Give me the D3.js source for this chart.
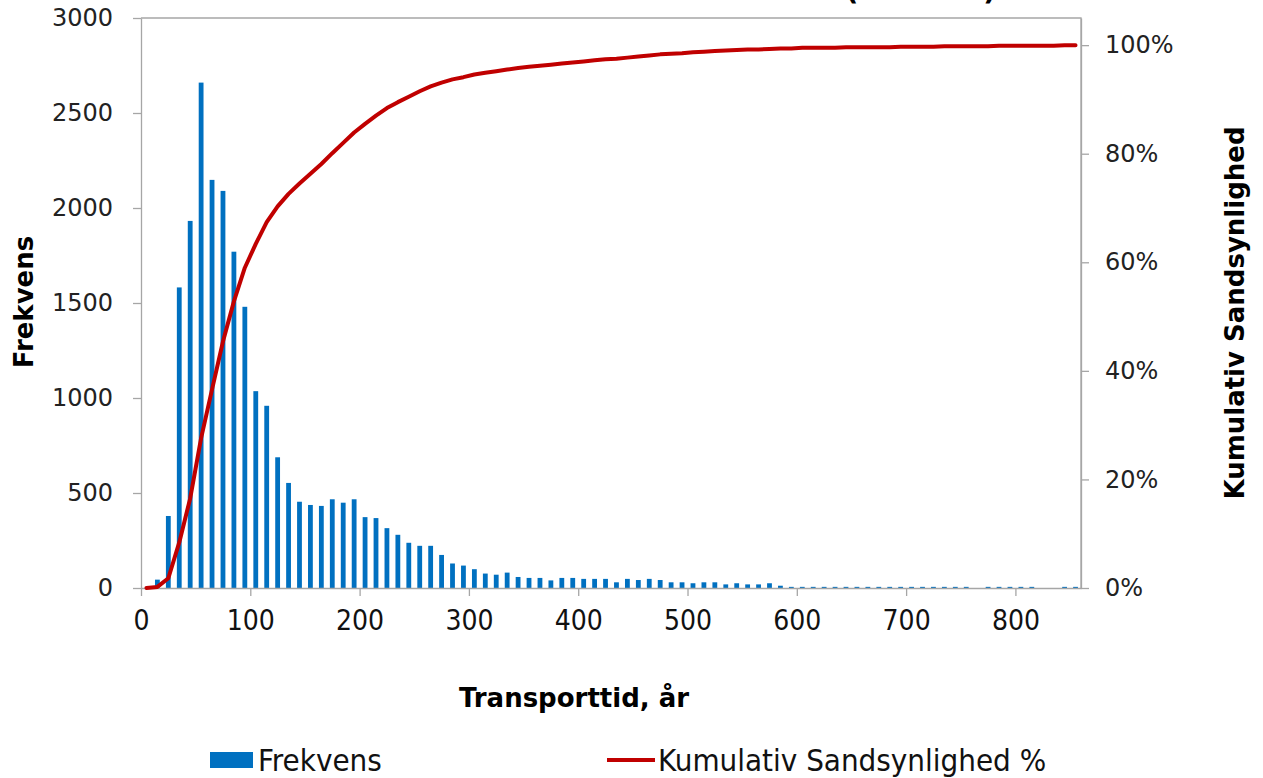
<!DOCTYPE html>
<meta charset="utf-8">
<head>
    <title>Transporttid</title>
    <script src="https://cdn.jsdelivr.net/npm/d3@7"></script>
</head>

<style>
    body { margin: 0; background: #fff; }
    svg { display: block; }
    .axis path, .axis line { stroke: #a6a6a6; stroke-width: 1.3px; }
    .ytick text { font-family: "DejaVu Sans", Verdana, sans-serif; font-size: 24px; fill: #222; }
    .xtick text { font-family: "DejaVu Sans Condensed", sans-serif; font-size: 28px; fill: #111; }
    .title { font-family: "DejaVu Sans", Verdana, sans-serif; font-weight: bold; font-size: 26px; fill: #000; }
    .legend text { font-family: "DejaVu Sans Condensed", sans-serif; font-size: 31px; fill: #111; }
</style>

<svg></svg>

<script>
    // data: 10-year bins, bar at the bin centre
    var binCenters = d3.range(5, 860, 10);   // 5, 15, ... 855
    var frekvens = [
        0, 44, 379, 1582, 1932, 2660, 2148, 2090, 1770, 1480,
        1036, 959, 688, 553, 454, 437, 432, 467, 449, 467,
        373, 368, 315, 280, 238, 222, 222, 174, 129, 118,
        99, 76, 70, 81, 58, 53, 53, 40, 53, 53,
        48, 48, 48, 30, 48, 42, 48, 42, 30, 30,
        25, 30, 30, 19, 25, 19, 19, 25, 12, 6,
        6, 6, 6, 6, 6, 6, 6, 6, 6, 6,
        6, 6, 6, 6, 6, 6, 0, 6, 6, 6,
        6, 6, 0, 0, 6, 6
    ];
    // cumulative probability in percent
    var kumulativ = [
        0, 0.2, 1.8, 8.4, 16.5, 27.6, 36.6, 45.4, 52.8, 59.0,
        63.4, 67.4, 70.3, 72.6, 74.5, 76.3, 78.1, 80.1, 82.0, 83.9,
        85.5, 87.0, 88.4, 89.5, 90.5, 91.5, 92.4, 93.1, 93.7, 94.1,
        94.6, 94.9, 95.2, 95.5, 95.8, 96.0, 96.2, 96.4, 96.6, 96.8,
        97.0, 97.2, 97.4, 97.5, 97.7, 97.9, 98.1, 98.3, 98.4, 98.5,
        98.7, 98.8, 98.9, 99.0, 99.1, 99.2, 99.2, 99.3, 99.4, 99.4,
        99.5, 99.5, 99.5, 99.5, 99.6, 99.6, 99.6, 99.6, 99.6, 99.7,
        99.7, 99.7, 99.7, 99.8, 99.8, 99.8, 99.8, 99.8, 99.9, 99.9,
        99.9, 99.9, 99.9, 99.9, 100, 100
    ];
    var xTicks = [0, 100, 200, 300, 400, 500, 600, 700, 800];
    var yLeftTicks = [0, 500, 1000, 1500, 2000, 2500, 3000];
    var yRightTicks = [0, 0.2, 0.4, 0.6, 0.8, 1.0];

    var vWidth = 1263;
    var vHeight = 778;
    var pLeft = 141, pRight = 1081, pTop = 18, pBottom = 588;

    var svg = d3.select('svg')
        .attr('width', vWidth)
        .attr('height', vHeight);

    var x = d3.scaleLinear().domain([0, 860]).range([pLeft, pRight]);
    var yL = d3.scaleLinear().domain([0, 3000]).range([pBottom, pTop]);
    var yR = d3.scaleLinear().domain([0, 1.05]).range([pBottom, pTop]);

    // frame lines (top + right)
    svg.append('path')
        .attr('d', 'M' + pLeft + ',' + pTop + 'H' + pRight + 'V' + pBottom)
        .attr('fill', 'none')
        .attr('stroke', '#a6a6a6')
        .attr('stroke-width', 1.3);

    // bars
    var barW = x(4.4) - x(0);
    svg.append('g').selectAll('rect')
        .data(frekvens)
        .enter().append('rect')
        .attr('x', function (d, i) { return x(binCenters[i]) - barW / 2; })
        .attr('y', function (d) { return yL(d); })
        .attr('width', barW)
        .attr('height', function (d) { return pBottom - yL(d); })
        .attr('fill', '#0070c0');

    // axes
    svg.append('g')
        .attr('class', 'axis xtick')
        .attr('transform', 'translate(0,' + pBottom + ')')
        .call(d3.axisBottom(x).tickValues(xTicks).tickSize(8).tickPadding(14).tickSizeOuter(0));

    svg.append('g')
        .attr('class', 'axis ytick')
        .attr('transform', 'translate(' + pLeft + ',0)')
        .call(d3.axisLeft(yL).tickValues(yLeftTicks).tickSize(8).tickPadding(20)
            .tickFormat(d3.format('d')).tickSizeOuter(0));

    svg.append('g')
        .attr('class', 'axis ytick')
        .attr('transform', 'translate(' + pRight + ',0)')
        .call(d3.axisRight(yR).tickValues(yRightTicks).tickSize(8).tickPadding(16)
            .tickFormat(d3.format('.0%')).tickSizeOuter(0));

    // cumulative line
    var line = d3.line()
        .x(function (d, i) { return x(binCenters[i]); })
        .y(function (d) { return yR(d / 100); });

    svg.append('path')
        .datum(kumulativ)
        .attr('d', line)
        .attr('fill', 'none')
        .attr('stroke', '#c00000')
        .attr('stroke-width', 4)
        .attr('stroke-linejoin', 'round')
        .attr('stroke-linecap', 'round');

    // axis titles
    svg.append('text').attr('class', 'title')
        .attr('transform', 'translate(33,302) rotate(-90)')
        .attr('text-anchor', 'middle')
        .text('Frekvens');

    svg.append('text').attr('class', 'title')
        .attr('transform', 'translate(1244,313) rotate(-90)')
        .attr('text-anchor', 'middle')
        .text('Kumulativ Sandsynlighed');

    svg.append('text').attr('class', 'title')
        .attr('x', 574).attr('y', 707)
        .attr('text-anchor', 'middle')
        .text('Transporttid, år');

    // chart title, cut off at the top edge as in the source
    svg.append('text').attr('class', 'title')
        .attr('x', 996).attr('y', 0)
        .attr('text-anchor', 'end')
        .style('font-size', '28px')
        .text('Resultater for alle kilder (Model 1)');

    // legend
    var legend = svg.append('g').attr('class', 'legend');
    legend.append('rect')
        .attr('x', 210).attr('y', 752).attr('width', 43).attr('height', 16)
        .attr('fill', '#0070c0');
    legend.append('text')
        .attr('x', 258).attr('y', 771)
        .text('Frekvens');
    legend.append('line')
        .attr('x1', 607).attr('x2', 655).attr('y1', 760).attr('y2', 760)
        .attr('stroke', '#c00000').attr('stroke-width', 4);
    legend.append('text')
        .attr('x', 658).attr('y', 771)
        .text('Kumulativ Sandsynlighed %');
</script>
